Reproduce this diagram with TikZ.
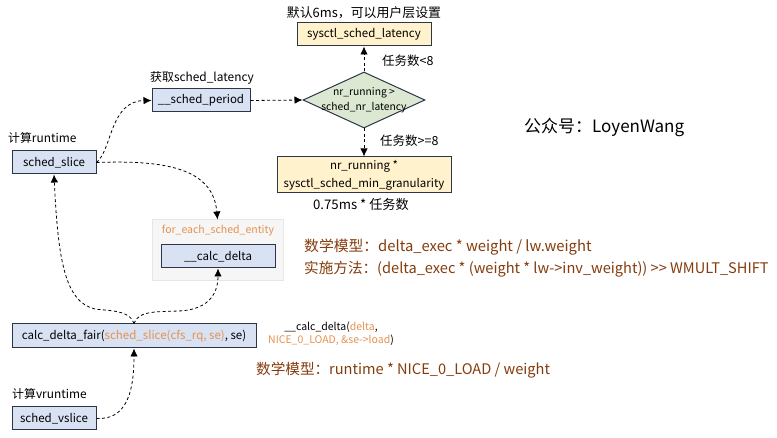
\documentclass[tikz,border=0pt]{standalone}
\usepackage{fontspec}
\setmainfont[Ligatures=NoCommon]{Noto Sans CJK SC}
\usetikzlibrary{shapes.geometric,arrows.meta}
\definecolor{bluefill}{HTML}{D9E2F3}
\definecolor{yellowfill}{HTML}{FFF2CC}
\definecolor{greenfill}{HTML}{DCE8D2}
\definecolor{edgedark}{HTML}{2B3648}
\definecolor{orangetxt}{HTML}{E5914F}
\definecolor{browntxt}{HTML}{843C0C}
\definecolor{panelfill}{HTML}{F6F6F6}
\definecolor{paneledge}{HTML}{E6E6E6}
\newcommand{\fs}[1]{\fontsize{#1}{#1}\selectfont}
\tikzset{
 x=1pt,y=-1pt,
 boxbase/.style={draw=edgedark,line width=1pt,inner sep=0pt,align=center,text=black,font=\fs{11.5}},
 bluebox/.style={boxbase,fill=bluefill},
 yellowbox/.style={boxbase,fill=yellowfill},
 caption/.style={inner sep=0pt,font=\fs{11.9},text=black,anchor=base west},
 note/.style={inner sep=0pt,font=\fs{12.5},text=black,anchor=base west},
 model/.style={inner sep=0pt,font=\fs{14.6},text=browntxt,anchor=base west},
 conn/.style={draw=black,line width=0.8pt,dash pattern=on 3pt off 2.5pt,-{Latex[length=8pt,width=7.5pt]}},
}
\begin{document}
\begin{tikzpicture}
\useasboundingbox (0,0) rectangle (777,438);
\node[minimum width=134pt,minimum height=23pt,yellowbox] (latency) at (364,34.5) {sysctl\_sched\_latency};
\node[diamond,aspect=2.18,minimum width=122pt,minimum height=56pt,draw=edgedark,line width=1pt,fill=greenfill,inner sep=0pt] (cond) at (364,100) {};
\node[inner sep=0pt,align=center,font=\fs{10.3},text=black] (condtext) at (364,100) {nr\_running >\\[3.5pt]sched\_nr\_latency};
\node[minimum width=174pt,minimum height=36pt,yellowbox] (minfo) at (364,175) {nr\_running *\\[5pt]sysctl\_sched\_min\_granularity};
\node[minimum width=98pt,minimum height=23pt,bluebox] (period) at (201,100.5) {\_\_sched\_period};
\node[minimum width=84pt,minimum height=23pt,bluebox] (slice) at (54,162.5) {sched\_slice};
\node[minimum width=131pt,minimum height=61pt,fill=panelfill,draw=paneledge,line width=1pt] (panel) at (217.5,250.5) {};
\node[inner sep=0pt,font=\fs{10.5},text=orangetxt,anchor=base] (foreach) at (218,234) {for\_each\_sched\_entity};
\node[minimum width=114pt,minimum height=23pt,bluebox] (delta) at (218,256.5) {\_\_calc\_delta};
\node[minimum width=244pt,minimum height=24pt,bluebox] (fair) at (134,336) {calc\_delta\_fair(\textcolor{orangetxt}{sched\_slice(cfs\_rq, se)}, se)};
\node[minimum width=84pt,minimum height=23pt,bluebox] (vslice) at (54,418.5) {sched\_vslice};

\node[inner sep=0pt,font=\fs{12.9},text=black,anchor=base] (c1) at (364,18) {默认6ms，可以用户层设置};
\node[caption] (c2) at (150,82) {获取sched\_latency};
\node[caption] (c3) at (8,143) {计算runtime};
\node[caption] (c4) at (12,399) {计算vruntime};
\node[note] (c5) at (382,66) {任务数<8};
\node[note] (c6) at (380,146) {任务数>=8};
\node[inner sep=0pt,font=\fs{13.2},text=black,anchor=base] (c7) at (361,210) {0.75ms * 任务数};
\node[inner sep=0pt,font=\fs{17},text=black,anchor=base west] (wx) at (524,133) {公众号：LoyenWang};
\node[model,font=\fs{14.8}] (m1) at (304,252) {数学模型：delta\_exec * weight / lw.weight};
\node[model] (m2) at (304,274) {实施方法：(delta\_exec * (weight * lw->inv\_weight)) {>}{>} WMULT\_SHIFT};
\node[model] (m3) at (256,375) {数学模型：runtime * NICE\_0\_LOAD / weight};
\node[inner sep=0pt,font=\fs{10.5},align=center,text=black,anchor=center] (call) at (331,334) {\_\_calc\_delta(\textcolor{orangetxt}{delta},\\[1pt]\textcolor{orangetxt}{NICE\_0\_LOAD, \&se->load})};

\draw[conn] (cond.north) -- (latency.south);
\draw[conn] (cond.south) -- (minfo.north);
\draw[conn] (period.east) -- (cond.west);
\draw[conn] (slice.east) .. controls (112,150) and (110,101) .. (period.west);
\draw[conn] (slice.east) .. controls (165,160) and (213,168) .. (panel.north);
\draw[conn] (fair.north) .. controls (130,310) and (110,311) .. (95,309) .. controls (65,302) and (58,260) .. (slice.south);
\draw[conn] (fair.north) .. controls (138,310) and (160,312) .. (178,311) .. controls (212,310) and (218,290) .. (delta.south);
\draw[conn] (vslice.east) .. controls (125,420) and (134,395) .. (fair.south);
\end{tikzpicture}
\end{document}
